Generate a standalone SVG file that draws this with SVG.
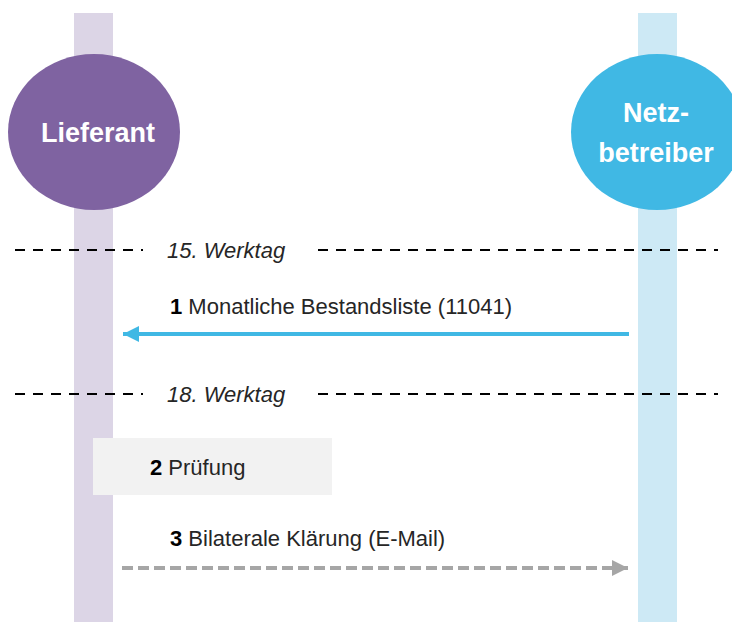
<svg xmlns="http://www.w3.org/2000/svg" width="732" height="622" viewBox="0 0 732 622">
<style>
.actor{font-family:"Liberation Sans",Arial,sans-serif;font-weight:bold;font-size:27px;fill:#ffffff;text-anchor:middle}
.lbl{font-family:"Liberation Sans",Arial,sans-serif;font-size:22px;fill:#262626}
.lbl .n{font-weight:bold;fill:#000}
.day{font-family:"Liberation Sans",Arial,sans-serif;font-style:italic;font-size:22px;fill:#262626}
.sep{stroke:#000;stroke-width:2;stroke-dasharray:10 8;fill:none}
</style>
<defs>
<marker id="ah-blue" markerUnits="userSpaceOnUse" markerWidth="18" markerHeight="18" refX="16" refY="8" orient="auto">
<path d="M0,0 L16,8 L0,16 Z" fill="#40B8E4"/>
</marker>
<marker id="ah-gray" markerUnits="userSpaceOnUse" markerWidth="18" markerHeight="18" refX="16" refY="8" orient="auto">
<path d="M0,0 L16,8 L0,16 Z" fill="#A6A6A6"/>
</marker>
</defs>
<rect width="732" height="622" fill="#ffffff"/>
<g id="lieferant">
<rect x="74" y="13" width="39" height="609" fill="#DCD5E6"/>
<ellipse cx="94" cy="132" rx="86" ry="78" fill="#7F63A1"/>
<text class="actor" x="98" y="142">Lieferant</text>
</g>
<g id="netzbetreiber">
<rect x="638" y="13" width="39" height="609" fill="#CDE9F5"/>
<ellipse cx="657" cy="132" rx="86" ry="78" fill="#40B8E4"/>
<text class="actor" x="656" y="122">Netz-</text>
<text class="actor" x="656" y="162">betreiber</text>
</g>
<g id="werktag15">
<line class="sep" x1="15" y1="250" x2="143" y2="250"/>
<line class="sep" x1="318" y1="250" x2="718" y2="250"/>
<text class="day" x="167" y="258">15. Werktag</text>
</g>
<g id="werktag18">
<line class="sep" x1="15" y1="394" x2="143" y2="394"/>
<line class="sep" x1="318" y1="394" x2="718" y2="394"/>
<text class="day" x="167" y="402">18. Werktag</text>
</g>
<g id="pruefung">
<rect x="93" y="438" width="239" height="57" fill="#F2F2F2"/>
<text class="lbl" x="150" y="475"><tspan class="n">2</tspan> Prüfung</text>
</g>
<g id="connectors">
<line x1="629" y1="334" x2="123" y2="334" stroke="#40B8E4" stroke-width="4" marker-end="url(#ah-blue)"/>
<line x1="122" y1="568" x2="628" y2="568" stroke="#A6A6A6" stroke-width="4" stroke-dasharray="11 5" marker-end="url(#ah-gray)"/>
</g>
<g id="labels">
<text class="lbl" x="170" y="314"><tspan class="n">1</tspan> Monatliche Bestandsliste (11041)</text>
<text class="lbl" x="170" y="546"><tspan class="n">3</tspan> Bilaterale Klärung (E-Mail)</text>
</g>
</svg>
